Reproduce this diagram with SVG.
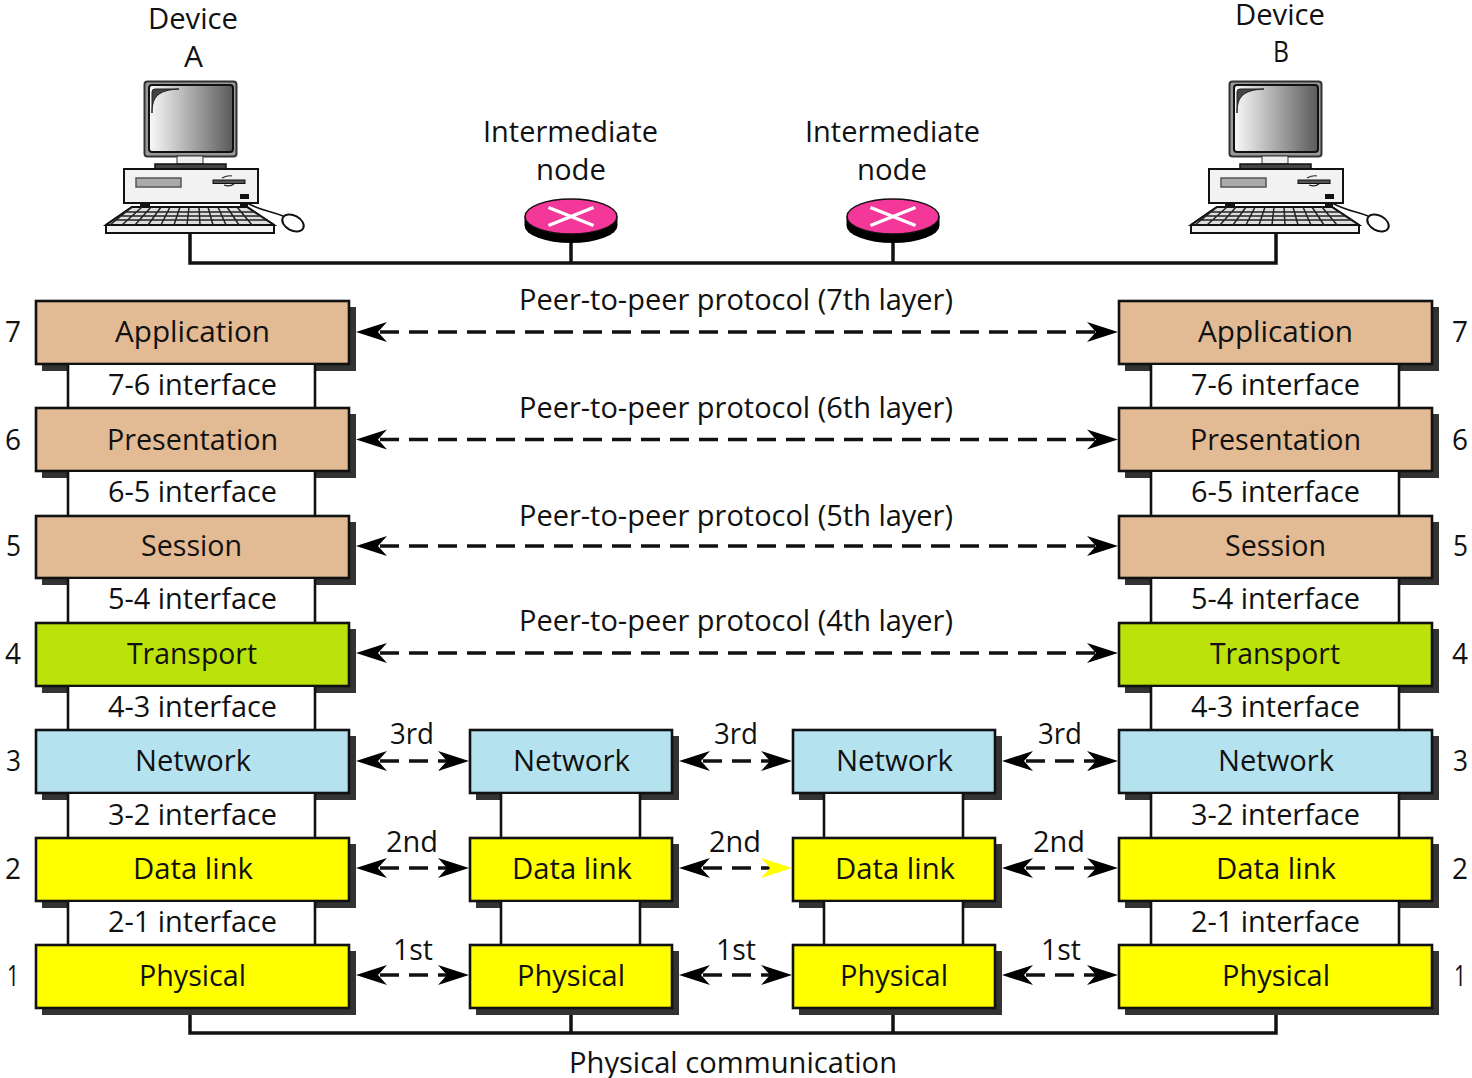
<svg xmlns="http://www.w3.org/2000/svg" xmlns:xlink="http://www.w3.org/1999/xlink" width="1472" height="1078" viewBox="0 0 1472 1078">
<style>
text{font-family:"Open Sans","Noto Sans","Liberation Sans",sans-serif;font-size:30px;fill:#111}
.shadow{fill:#333}
.box{stroke:#111;stroke-width:2.6}
.app{fill:#e2ba94}.trn{fill:#bce20c}.net{fill:#b4e3ef}.low{fill:#ffff00}
.ifc{fill:#fff}
.ifl{fill:none;stroke:#111;stroke-width:2.6}
.bus{fill:none;stroke:#111;stroke-width:3.5}
.dash{fill:none;stroke:#111;stroke-width:3.5;stroke-dasharray:19 10}
.tip{fill:#000}
.ytip{fill:#ffff00}
</style>
<defs>
<linearGradient id="scr" x1="0" x2="1" y1="0" y2="0"><stop offset="0" stop-color="#fafafa"/><stop offset="1" stop-color="#5a5a5a"/></linearGradient>
<g id="pc">
<path d="M247 203C262 211 270 211 283 216" fill="none" stroke="#111" stroke-width="1.5"/>
<ellipse cx="293" cy="223" rx="11.5" ry="7.5" transform="rotate(28 293 223)" fill="#fff" stroke="#111" stroke-width="2"/>
<rect x="144.500" y="81.500" width="92" height="75" rx="3" fill="#999" stroke="#333" stroke-width="2"/>
<rect x="149" y="85" width="84" height="67" rx="3" fill="url(#scr)" stroke="#111" stroke-width="2"/>
<path d="M152 113C152 97 158 90 179 89L155 89Q152 89 152 92Z" fill="#444" stroke="#222" stroke-width="1"/>
<rect x="177" y="156" width="26" height="8" fill="#eee" stroke="#333" stroke-width="1"/>
<rect x="155" y="164" width="71" height="5" fill="#444" stroke="#111" stroke-width="1.500"/>
<rect x="124" y="169" width="134" height="34" fill="#f2f2f2" stroke="#111" stroke-width="2"/>
<rect x="136" y="178" width="45" height="9" fill="#aaa" stroke="#555" stroke-width="1.500"/>
<rect x="213" y="180" width="32" height="3.500" fill="#555" stroke="#111" stroke-width="1"/>
<path d="M222 178Q228 175 232 176M224 185Q230 187 234 184" fill="none" stroke="#222" stroke-width="1.200"/>
<rect x="240" y="194" width="9" height="5" fill="#111"/>
<rect x="140" y="203" width="10" height="5" fill="#111"/><rect x="240" y="203" width="8" height="5" fill="#111"/>
<path d="M132 207H247L274 225V233H106V225Z" fill="#f2f2f2" stroke="#111" stroke-width="2"/>
<path d="M132 207H247L274 225H106Z" fill="#ddd" stroke="#111" stroke-width="2"/>
<path d="M125 212H255M119 216H261M113 220H268M132 207L110 225M142 207L122 225M151 207L135 225M161 207L148 225M170 207L161 225M180 207L174 225M189 207L187 225M199 207L200 225M208 207L213 225M218 207L226 225M227 207L239 225M237 207L252 225" fill="none" stroke="#222" stroke-width="1.500"/>
</g>
<g id="rt">
<path d="M0 0V9A46.500 17.500 0 0 0 93 9V0Z" fill="#000"/>
<ellipse cx="46.500" cy="0" rx="46" ry="17.500" fill="#f4389a" stroke="#111" stroke-width="1.500"/>
<path d="M24 -9L69 9M69 -9L24 9" stroke="#fff" stroke-width="3.500" fill="none"/>
</g>
<path id="al" class="tip" d="M0 0L31 -10L22 0L31 10Z"/>
<path id="ar" class="tip" d="M0 0L-31 -10L-22 0L-31 10Z"/>
<path id="ay" class="ytip" d="M0 0L-31 -10L-22 0L-31 10Z"/>
<g id="il"><rect class="ifc" x="68" y="0" width="247" height="46"/><path class="ifl" d="M68 0V46M315 0V46"/></g>
<g id="ir"><rect class="ifc" x="1151" y="0" width="248" height="46"/><path class="ifl" d="M1151 0V46M1399 0V46"/></g>
<g id="im"><rect class="ifc" x="501" y="0" width="139" height="46"/><path class="ifl" d="M501 0V46M640 0V46"/></g>
<g id="in"><rect class="ifc" x="824" y="0" width="139" height="46"/><path class="ifl" d="M824 0V46M963 0V46"/></g>
</defs>
<g id="connectors">
<path class="bus" d="M190 233V263H1276V233M571 243V263M893 243V263"/>
<path class="bus" d="M190 1008V1033H1276V1008M571 1008V1033M893 1008V1033"/>
<path class="dash" d="M380 332H1095M380 439.500H1095M380 546H1095M380 653H1095"/>
<path class="dash" d="M380 761H447M703 761H770M1026 761H1096M380 868H447M703 868H770M1026 868H1096M380 975H447M703 975H770M1026 975H1096"/>
<use xlink:href="#al" x="356" y="332"/><use xlink:href="#ar" x="1118" y="332"/>
<use xlink:href="#al" x="356" y="439.500"/><use xlink:href="#ar" x="1118" y="439.500"/>
<use xlink:href="#al" x="356" y="546"/><use xlink:href="#ar" x="1118" y="546"/>
<use xlink:href="#al" x="356" y="653"/><use xlink:href="#ar" x="1118" y="653"/>
<use xlink:href="#al" x="356" y="761"/><use xlink:href="#ar" x="469" y="761"/>
<use xlink:href="#al" x="679" y="761"/><use xlink:href="#ar" x="792" y="761"/>
<use xlink:href="#al" x="1002" y="761"/><use xlink:href="#ar" x="1118" y="761"/>
<use xlink:href="#al" x="356" y="868"/><use xlink:href="#ar" x="469" y="868"/>
<use xlink:href="#al" x="679" y="868"/><use xlink:href="#ay" x="792" y="868"/>
<use xlink:href="#al" x="1002" y="868"/><use xlink:href="#ar" x="1118" y="868"/>
<use xlink:href="#al" x="356" y="975"/><use xlink:href="#ar" x="469" y="975"/>
<use xlink:href="#al" x="679" y="975"/><use xlink:href="#ar" x="792" y="975"/>
<use xlink:href="#al" x="1002" y="975"/><use xlink:href="#ar" x="1118" y="975"/>
</g>
<g id="deviceA"><use xlink:href="#pc"/><text x="148" y="29" textLength="90" lengthAdjust="spacingAndGlyphs">Device</text><text x="184" y="67" textLength="19" lengthAdjust="spacingAndGlyphs">A</text></g>
<g id="deviceB"><use xlink:href="#pc" x="1085"/><text x="1235" y="25" textLength="90" lengthAdjust="spacingAndGlyphs">Device</text><text x="1273" y="62" textLength="16" lengthAdjust="spacingAndGlyphs">B</text></g>
<g id="node1"><use xlink:href="#rt" x="524.500" y="216.500"/><text x="483" y="142" textLength="175" lengthAdjust="spacingAndGlyphs">Intermediate</text><text x="536" y="180" textLength="70" lengthAdjust="spacingAndGlyphs">node</text></g>
<g id="node2"><use xlink:href="#rt" x="846.500" y="216.500"/><text x="805" y="142" textLength="175" lengthAdjust="spacingAndGlyphs">Intermediate</text><text x="857" y="180" textLength="70" lengthAdjust="spacingAndGlyphs">node</text></g>

<g id="a7"><rect class="shadow" x="42" y="307" width="314" height="64"/><rect class="box app" x="36" y="301" width="313" height="63"/><text x="115" y="342" textLength="155" lengthAdjust="spacingAndGlyphs">Application</text><text x="5" y="342" textLength="16" lengthAdjust="spacingAndGlyphs">7</text></g>
<g id="b7"><rect class="shadow" x="1125" y="307" width="314" height="64"/><rect class="box app" x="1119" y="301" width="313" height="63"/><text x="1198" y="342" textLength="155" lengthAdjust="spacingAndGlyphs">Application</text><text x="1452" y="342" textLength="16" lengthAdjust="spacingAndGlyphs">7</text></g>
<g id="i76"><use xlink:href="#il" y="365"/><use xlink:href="#ir" y="365"/><text x="108" y="395" textLength="169" lengthAdjust="spacingAndGlyphs">7-6 interface</text><text x="1191" y="395" textLength="169" lengthAdjust="spacingAndGlyphs">7-6 interface</text></g>

<g id="a6"><rect class="shadow" x="42" y="414" width="314" height="64"/><rect class="box app" x="36" y="408" width="313" height="63"/><text x="107" y="450" textLength="171" lengthAdjust="spacingAndGlyphs">Presentation</text><text x="5" y="450" textLength="16" lengthAdjust="spacingAndGlyphs">6</text></g>
<g id="b6"><rect class="shadow" x="1125" y="414" width="314" height="64"/><rect class="box app" x="1119" y="408" width="313" height="63"/><text x="1190" y="450" textLength="171" lengthAdjust="spacingAndGlyphs">Presentation</text><text x="1452" y="450" textLength="16" lengthAdjust="spacingAndGlyphs">6</text></g>
<g id="i65"><use xlink:href="#il" y="472"/><use xlink:href="#ir" y="472"/><text x="108" y="502" textLength="169" lengthAdjust="spacingAndGlyphs">6-5 interface</text><text x="1191" y="502" textLength="169" lengthAdjust="spacingAndGlyphs">6-5 interface</text></g>

<g id="a5"><rect class="shadow" x="42" y="522" width="314" height="63"/><rect class="box app" x="36" y="516" width="313" height="62"/><text x="141" y="556" textLength="101" lengthAdjust="spacingAndGlyphs">Session</text><text x="6" y="556" textLength="15" lengthAdjust="spacingAndGlyphs">5</text></g>
<g id="b5"><rect class="shadow" x="1125" y="522" width="314" height="63"/><rect class="box app" x="1119" y="516" width="313" height="62"/><text x="1225" y="556" textLength="101" lengthAdjust="spacingAndGlyphs">Session</text><text x="1453" y="556" textLength="15" lengthAdjust="spacingAndGlyphs">5</text></g>
<g id="i54"><use xlink:href="#il" y="579"/><use xlink:href="#ir" y="579"/><text x="108" y="609" textLength="169" lengthAdjust="spacingAndGlyphs">5-4 interface</text><text x="1191" y="609" textLength="169" lengthAdjust="spacingAndGlyphs">5-4 interface</text></g>

<g id="a4"><rect class="shadow" x="42" y="629" width="314" height="64"/><rect class="box trn" x="36" y="623" width="313" height="63"/><text x="127" y="664" textLength="130" lengthAdjust="spacingAndGlyphs">Transport</text><text x="5" y="664" textLength="16" lengthAdjust="spacingAndGlyphs">4</text></g>
<g id="b4"><rect class="shadow" x="1125" y="629" width="314" height="64"/><rect class="box trn" x="1119" y="623" width="313" height="63"/><text x="1210" y="664" textLength="130" lengthAdjust="spacingAndGlyphs">Transport</text><text x="1452" y="664" textLength="16" lengthAdjust="spacingAndGlyphs">4</text></g>
<g id="i43"><use xlink:href="#il" y="687"/><use xlink:href="#ir" y="687"/><text x="108" y="717" textLength="169" lengthAdjust="spacingAndGlyphs">4-3 interface</text><text x="1191" y="717" textLength="169" lengthAdjust="spacingAndGlyphs">4-3 interface</text></g>

<g id="a3"><rect class="shadow" x="42" y="736" width="314" height="64"/><rect class="box net" x="36" y="730" width="313" height="63"/><text x="135" y="771" textLength="116" lengthAdjust="spacingAndGlyphs">Network</text><text x="6" y="771" textLength="15" lengthAdjust="spacingAndGlyphs">3</text></g>
<g id="m3"><rect class="shadow" x="476" y="736" width="203" height="64"/><rect class="box net" x="470" y="730" width="202" height="63"/><text x="513" y="771" textLength="117" lengthAdjust="spacingAndGlyphs">Network</text></g>
<g id="n3"><rect class="shadow" x="799" y="736" width="203" height="64"/><rect class="box net" x="793" y="730" width="202" height="63"/><text x="836" y="771" textLength="117" lengthAdjust="spacingAndGlyphs">Network</text></g>
<g id="b3"><rect class="shadow" x="1125" y="736" width="314" height="64"/><rect class="box net" x="1119" y="730" width="313" height="63"/><text x="1218" y="771" textLength="116" lengthAdjust="spacingAndGlyphs">Network</text><text x="1453" y="771" textLength="15" lengthAdjust="spacingAndGlyphs">3</text></g>
<g id="i32"><use xlink:href="#il" y="794"/><use xlink:href="#ir" y="794"/><use xlink:href="#im" y="794"/><use xlink:href="#in" y="794"/><text x="108" y="825" textLength="169" lengthAdjust="spacingAndGlyphs">3-2 interface</text><text x="1191" y="825" textLength="169" lengthAdjust="spacingAndGlyphs">3-2 interface</text></g>

<g id="a2"><rect class="shadow" x="42" y="844" width="314" height="64"/><rect class="box low" x="36" y="838" width="313" height="63"/><text x="133" y="879" textLength="120" lengthAdjust="spacingAndGlyphs">Data link</text><text x="5" y="879" textLength="16" lengthAdjust="spacingAndGlyphs">2</text></g>
<g id="m2"><rect class="shadow" x="476" y="844" width="203" height="64"/><rect class="box low" x="470" y="838" width="202" height="63"/><text x="512" y="879" textLength="120" lengthAdjust="spacingAndGlyphs">Data link</text></g>
<g id="n2"><rect class="shadow" x="799" y="844" width="203" height="64"/><rect class="box low" x="793" y="838" width="202" height="63"/><text x="835" y="879" textLength="120" lengthAdjust="spacingAndGlyphs">Data link</text></g>
<g id="b2"><rect class="shadow" x="1125" y="844" width="314" height="64"/><rect class="box low" x="1119" y="838" width="313" height="63"/><text x="1216" y="879" textLength="120" lengthAdjust="spacingAndGlyphs">Data link</text><text x="1452" y="879" textLength="16" lengthAdjust="spacingAndGlyphs">2</text></g>
<g id="i21"><use xlink:href="#il" y="902"/><use xlink:href="#ir" y="902"/><use xlink:href="#im" y="902"/><use xlink:href="#in" y="902"/><text x="108" y="932" textLength="169" lengthAdjust="spacingAndGlyphs">2-1 interface</text><text x="1191" y="932" textLength="169" lengthAdjust="spacingAndGlyphs">2-1 interface</text></g>

<g id="a1"><rect class="shadow" x="42" y="951" width="314" height="64"/><rect class="box low" x="36" y="945" width="313" height="63"/><text x="139" y="986" textLength="107" lengthAdjust="spacingAndGlyphs">Physical</text><text x="7" y="986" textLength="12" lengthAdjust="spacingAndGlyphs">1</text></g>
<g id="m1"><rect class="shadow" x="476" y="951" width="203" height="64"/><rect class="box low" x="470" y="945" width="202" height="63"/><text x="517" y="986" textLength="108" lengthAdjust="spacingAndGlyphs">Physical</text></g>
<g id="n1"><rect class="shadow" x="799" y="951" width="203" height="64"/><rect class="box low" x="793" y="945" width="202" height="63"/><text x="840" y="986" textLength="108" lengthAdjust="spacingAndGlyphs">Physical</text></g>
<g id="b1"><rect class="shadow" x="1125" y="951" width="314" height="64"/><rect class="box low" x="1119" y="945" width="313" height="63"/><text x="1222" y="986" textLength="108" lengthAdjust="spacingAndGlyphs">Physical</text><text x="1454" y="986" textLength="12" lengthAdjust="spacingAndGlyphs">1</text></g>

<g id="labels">
<text x="519" y="310" textLength="434" lengthAdjust="spacingAndGlyphs">Peer-to-peer protocol (7th layer)</text>
<text x="519" y="418" textLength="434" lengthAdjust="spacingAndGlyphs">Peer-to-peer protocol (6th layer)</text>
<text x="519" y="526" textLength="434" lengthAdjust="spacingAndGlyphs">Peer-to-peer protocol (5th layer)</text>
<text x="519" y="631" textLength="434" lengthAdjust="spacingAndGlyphs">Peer-to-peer protocol (4th layer)</text>
<text x="390" y="744" textLength="44" lengthAdjust="spacingAndGlyphs">3rd</text><text x="714" y="744" textLength="44" lengthAdjust="spacingAndGlyphs">3rd</text><text x="1038" y="744" textLength="44" lengthAdjust="spacingAndGlyphs">3rd</text>
<text x="386" y="852" textLength="52" lengthAdjust="spacingAndGlyphs">2nd</text><text x="709" y="852" textLength="52" lengthAdjust="spacingAndGlyphs">2nd</text><text x="1033" y="852" textLength="52" lengthAdjust="spacingAndGlyphs">2nd</text>
<text x="393" y="960" textLength="40" lengthAdjust="spacingAndGlyphs">1st</text><text x="716" y="960" textLength="40" lengthAdjust="spacingAndGlyphs">1st</text><text x="1041" y="960" textLength="40" lengthAdjust="spacingAndGlyphs">1st</text>
<text x="569" y="1073" textLength="328" lengthAdjust="spacingAndGlyphs">Physical communication</text>
</g>
</svg>
